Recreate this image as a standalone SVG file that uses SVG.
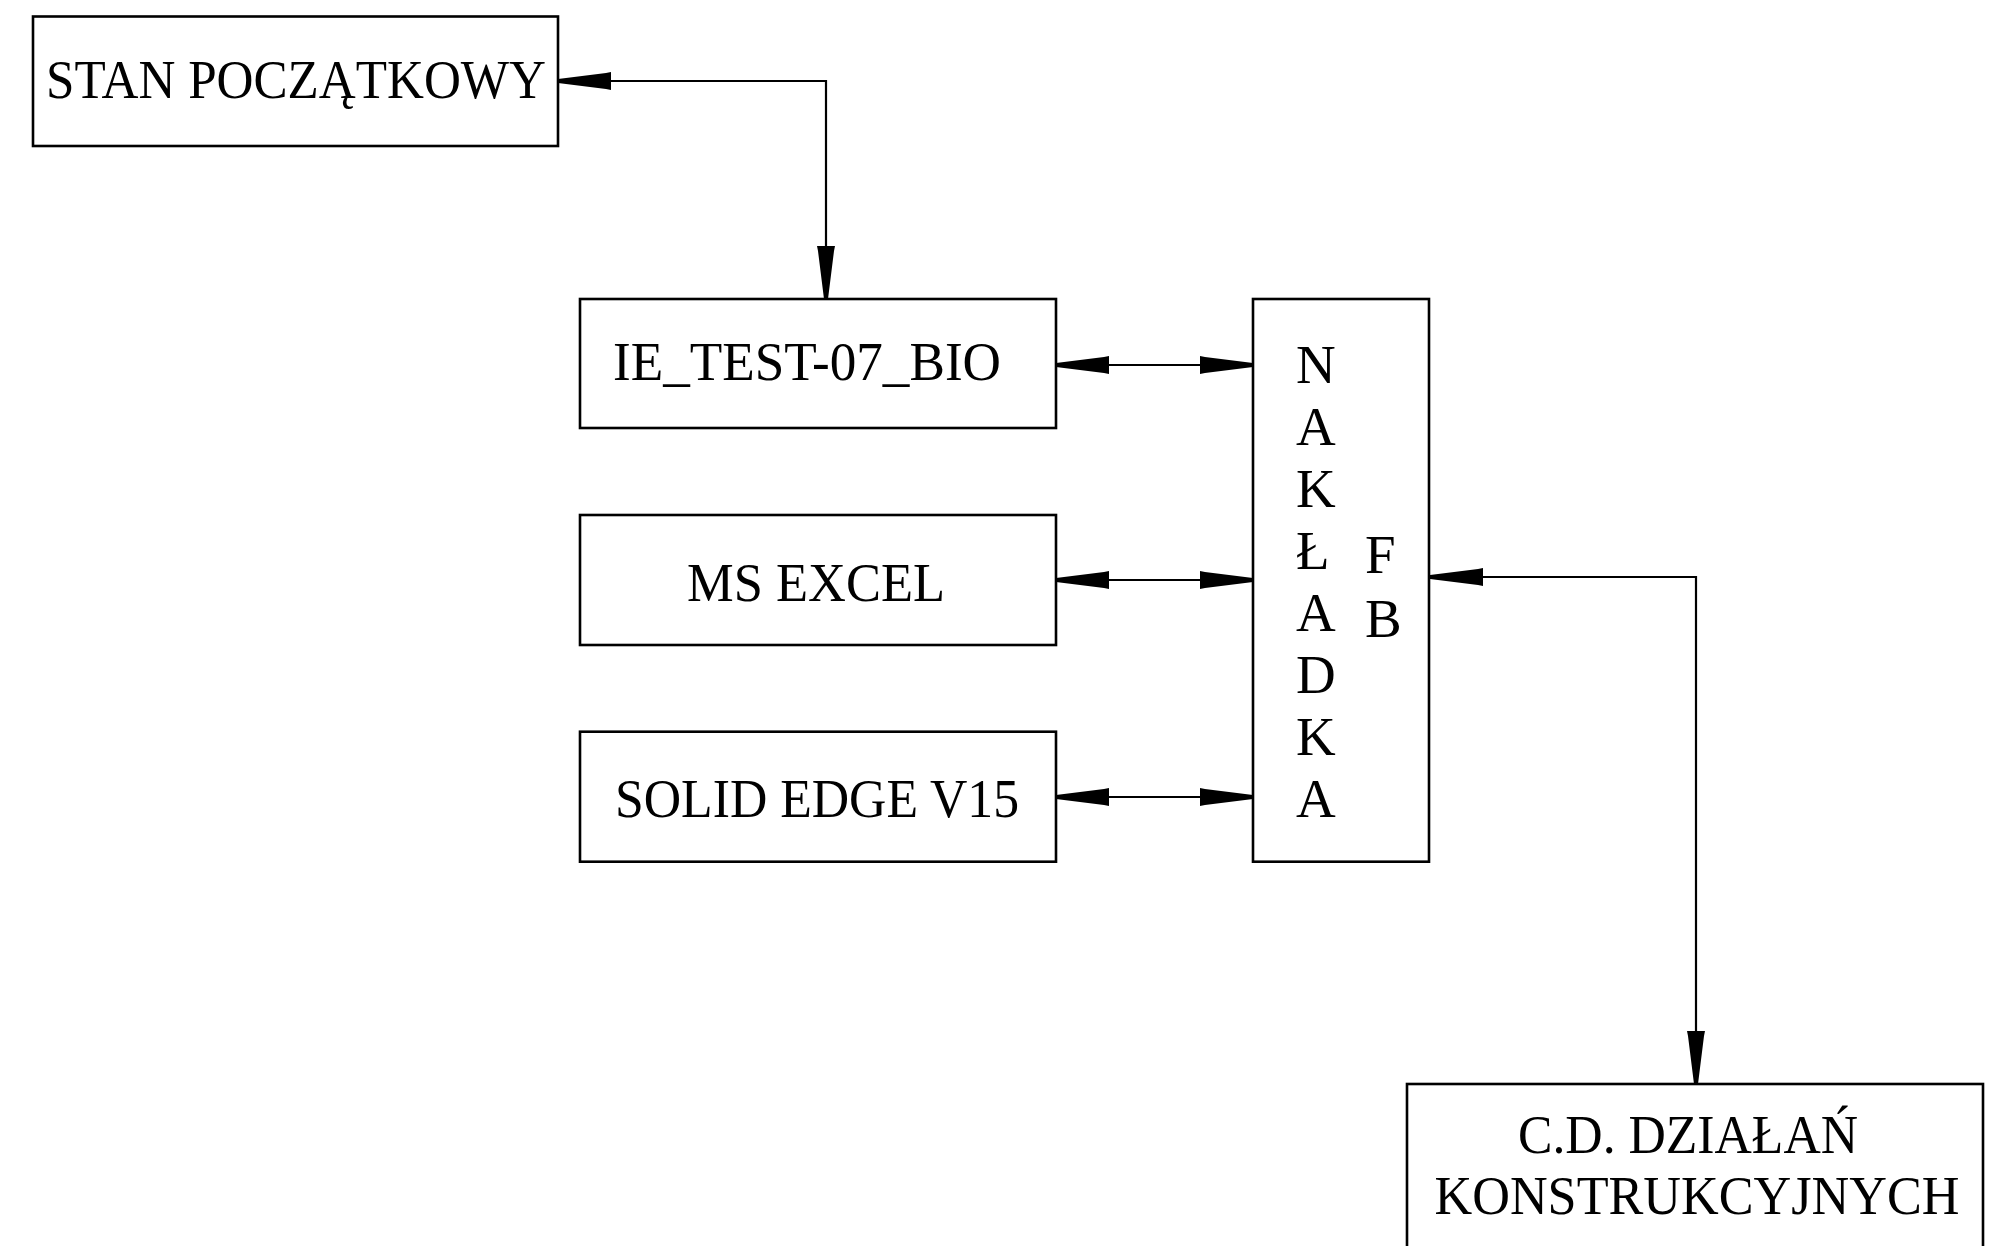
<svg xmlns="http://www.w3.org/2000/svg" width="2013" height="1246" viewBox="0 0 2013 1246">
<style>
.box{fill:#fff;stroke:#000;stroke-width:2.6}
.lbl{font-family:"Liberation Serif","Times New Roman",serif;font-size:55px;fill:#000}
.mid{text-anchor:middle}
.con{fill:none;stroke:#000;stroke-width:2.2}
</style>
<defs>
<marker id="ah" viewBox="0 0 53 18" refX="53" refY="9" markerWidth="53" markerHeight="18" markerUnits="userSpaceOnUse" orient="auto-start-reverse">
<path d="M0,0 L5,1 L5,17 L0,18 Z M5,1 L53,7 L53,11 L5,17 Z" fill="#000"/>
</marker>
</defs>
<rect width="2013" height="1246" fill="#fff"/>
<g id="connectors">
<path class="con" d="M558,81 H826 V299" marker-start="url(#ah)" marker-end="url(#ah)"/>
<path class="con" d="M1056,365 H1253" marker-start="url(#ah)" marker-end="url(#ah)"/>
<path class="con" d="M1056,580 H1253" marker-start="url(#ah)" marker-end="url(#ah)"/>
<path class="con" d="M1056,797 H1253" marker-start="url(#ah)" marker-end="url(#ah)"/>
<path class="con" d="M1430,577 H1696 V1084" marker-start="url(#ah)" marker-end="url(#ah)"/>
</g>
<g id="stan">
<rect class="box" x="33" y="16.5" width="525" height="129.5"/>
<text class="lbl mid" x="296" y="97.7" textLength="500" lengthAdjust="spacingAndGlyphs">STAN POCZĄTKOWY</text>
</g>
<g id="ie">
<rect class="box" x="580" y="299" width="476" height="129"/>
<text class="lbl mid" x="807" y="380" textLength="388" lengthAdjust="spacingAndGlyphs">IE_TEST-07_BIO</text>
</g>
<g id="excel">
<rect class="box" x="580" y="515" width="476" height="130"/>
<text class="lbl mid" x="816" y="600.7" textLength="258" lengthAdjust="spacingAndGlyphs">MS EXCEL</text>
</g>
<g id="solid">
<rect class="box" x="580" y="731.7" width="476" height="130"/>
<text class="lbl mid" x="817" y="816.7" textLength="404" lengthAdjust="spacingAndGlyphs">SOLID EDGE V15</text>
</g>
<g id="nakladka">
<rect class="box" x="1253" y="299" width="176" height="562.7"/>
<text class="lbl" x="1296" y="383">N</text>
<text class="lbl" x="1296" y="445">A</text>
<text class="lbl" x="1296" y="507">K</text>
<text class="lbl" x="1296" y="569">Ł</text>
<text class="lbl" x="1296" y="631">A</text>
<text class="lbl" x="1296" y="693">D</text>
<text class="lbl" x="1296" y="755">K</text>
<text class="lbl" x="1296" y="817">A</text>
<text class="lbl" x="1365" y="573.3">F</text>
<text class="lbl" x="1365" y="636.7">B</text>
</g>
<g id="cd">
<rect class="box" x="1407" y="1084" width="576" height="200"/>
<text class="lbl mid" x="1688" y="1153.3" textLength="340" lengthAdjust="spacingAndGlyphs">C.D. DZIAŁAŃ</text>
<text class="lbl mid" x="1697" y="1214.3" textLength="525" lengthAdjust="spacingAndGlyphs">KONSTRUKCYJNYCH</text>
</g>
</svg>
